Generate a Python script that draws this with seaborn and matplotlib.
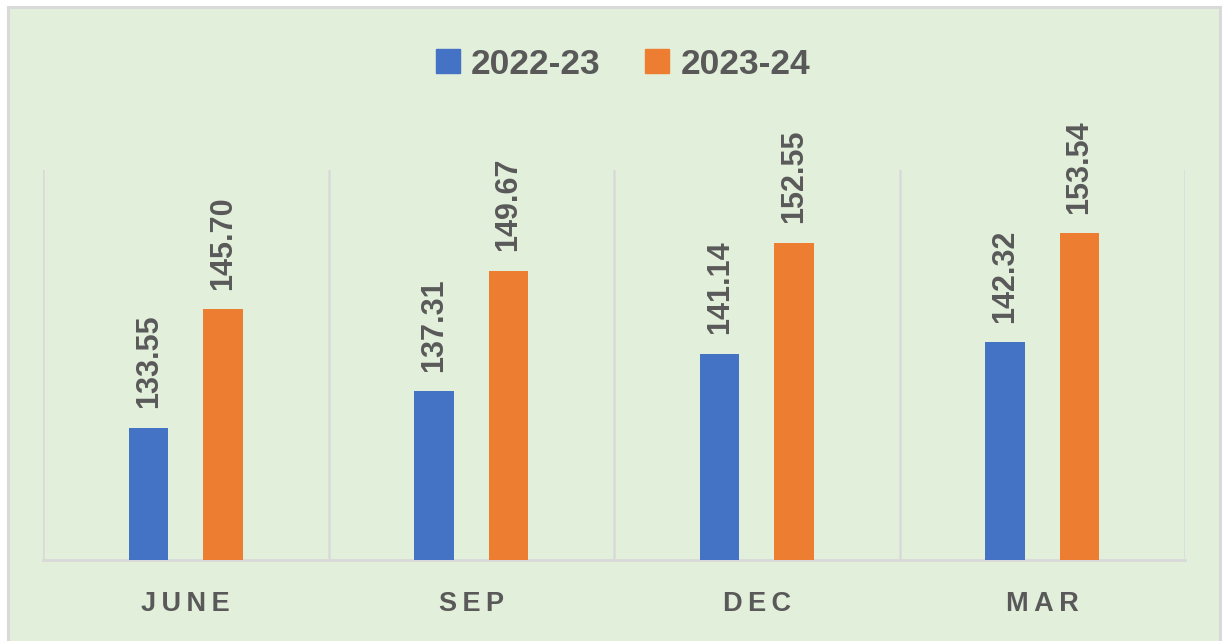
import matplotlib
matplotlib.use("Agg")
import matplotlib.pyplot as plt
from matplotlib.patches import Rectangle
from matplotlib.lines import Line2D
import seaborn as sns
import pandas as pd

quarters = ["JUNE", "SEP", "DEC", "MAR"]
years = ["2022-23", "2023-24"]
values_2022_23 = [133.55, 137.31, 141.14, 142.32]
values_2023_24 = [145.70, 149.67, 152.55, 153.54]

BLUE = "#4472c4"
ORANGE = "#ed7d31"
BG = "#e2efda"
GRID = "#d9d9d9"
TEXT = "#595959"

sns.set_theme(style="white")
plt.rcParams["font.family"] = ["Liberation Sans", "DejaVu Sans"]

df = pd.DataFrame({
    "quarter": quarters * 2,
    "year": [years[0]] * 4 + [years[1]] * 4,
    "value": values_2022_23 + values_2023_24,
})

W, H = 1222, 641
fig = plt.figure(figsize=(W / 100, H / 100), dpi=100, facecolor="white")
# chart area panel with a light gray frame, kept behind the axes
fig.patches.append(Rectangle((8 / W, -0.01), (1220 - 8) / W, (H - 7) / H + 0.01,
                             transform=fig.transFigure, facecolor=BG,
                             edgecolor=GRID, linewidth=2.2, zorder=-10))

ax = fig.add_axes([43 / W, (H - 560) / H, (1185 - 43) / W, (560 - 170) / H])
ax.set_facecolor("none")
ax.set_zorder(1)

sns.barplot(data=df, x="quarter", y="value", hue="year", order=quarters,
            hue_order=years, palette=[BLUE, ORANGE], saturation=1,
            width=0.52, gap=0.47, errorbar=None, ax=ax, legend=False,
            linewidth=0, zorder=3)

ax.set_ylim(120, 160)
ax.set_xlim(-0.5, 3.5)

for cont in ax.containers:
    ax.bar_label(cont, fmt="%.2f", rotation=90, padding=14, fontsize=22,
                 fontweight="bold", color=TEXT)

# category separators
for xb in [-0.5, 0.5, 1.5, 2.5, 3.5]:
    ax.axvline(xb, color=GRID, linewidth=1.8, zorder=1)

for s in ["top", "right", "left"]:
    ax.spines[s].set_visible(False)
ax.spines["bottom"].set_color(GRID)
ax.spines["bottom"].set_linewidth(2)

ax.set_yticks([])
ax.set_xlabel("")
ax.set_ylabel("")
ax.set_xticks(range(len(quarters)))
ax.set_xticklabels(["\u2009".join(q) for q in quarters],
                   family=["Liberation Sans", "DejaVu Sans"])
ax.tick_params(axis="x", length=0, pad=22, labelsize=19.5, labelcolor=TEXT)
for t in ax.get_xticklabels():
    t.set_fontweight("bold")

handles = [Line2D([], [], marker="s", linestyle="none", markersize=17,
                  markerfacecolor=c, markeredgecolor=c) for c in [BLUE, ORANGE]]
leg = fig.legend(handles, years, loc="center",
                 bbox_to_anchor=(622 / W, (H - 64) / H),
                 ncol=2, frameon=False, handletextpad=0.25,
                 columnspacing=1.2, handlelength=0.8,
                 prop={"weight": "bold", "size": 25.5})
for t in leg.get_texts():
    t.set_color(TEXT)

fig.savefig("out.png", dpi=100, facecolor=fig.get_facecolor())
